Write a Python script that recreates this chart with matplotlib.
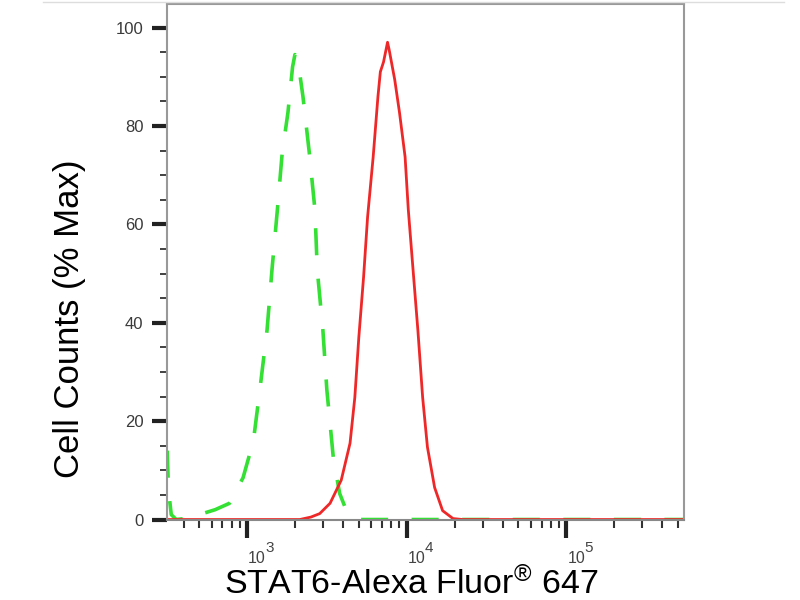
import numpy as np
import matplotlib
matplotlib.use("Agg")
import matplotlib.pyplot as plt
from matplotlib.ticker import LogLocator, NullFormatter, MultipleLocator
from matplotlib.lines import Line2D
from matplotlib.transforms import blended_transform_factory, offset_copy

plt.rcParams['font.family'] = ['Liberation Sans', 'DejaVu Sans']
plt.rcParams['mathtext.fontset'] = 'custom'
plt.rcParams['mathtext.rm'] = 'Liberation Sans'
plt.rcParams['mathtext.it'] = 'Liberation Sans'

# isotype control (green dashed)
ctrl_x = [316, 322, 335, 360, 437, 525, 631, 776, 944, 1096, 1202, 1334, 1432,
          1549, 1660, 1803, 1928, 1995, 2089, 2239, 2455, 2661, 2754, 2985,
          3162, 3467, 3802, 4266, 4898, 20000, 546000]
ctrl_y = [14, 6, 1, 0, 0.3, 1.2, 2, 3.3, 8.5, 16, 26.3, 38.5, 50.7,
          63, 74.5, 82.7, 92, 94.5, 93, 86, 74.5, 63, 50.7, 38.5,
          26.3, 12.7, 5.3, 1.2, 0, 0, 0]

# STAT6 stained sample (red solid)
stat6_x = [316, 2138, 2512, 2851, 3311, 3890, 4416, 4732, 5012, 5370, 5689,
           6166, 6607, 6839, 7161, 7586, 7762, 8414, 9016, 9772, 10233, 10965,
           11749, 12589, 13490, 14962, 16788, 19498, 22387, 546000]
stat6_y = [0, 0, 0.5, 1.2, 3.3, 8, 15.5, 24.8, 37, 49.3, 61.5,
           73.7, 86, 91, 93, 97, 95.5, 89.4, 82.7, 73.7, 63, 50.7,
           38.5, 24.8, 14.7, 6.5, 1.8, 0.2, 0, 0]

decades = [3, 4, 5]

fig = plt.figure(figsize=(8, 6), dpi=100)
ax = fig.add_axes([0.209, 0.1333, 0.646, 0.8594])

ax.plot(ctrl_x, ctrl_y, color='#33e033', lw=2.6, dashes=(7.5, 6.5))
ax.plot(stat6_x, stat6_y, color='#ee2828', lw=2.0)

ax.set_xscale('log')
ax.set_xlim(316, 546000)
ax.set_ylim(-0.1, 104.7)

ax.yaxis.set_major_locator(MultipleLocator(20))
ax.yaxis.set_minor_locator(MultipleLocator(5))
ax.xaxis.set_major_locator(LogLocator(base=10, numticks=10))
ax.xaxis.set_minor_locator(LogLocator(base=10, subs=np.arange(2, 10), numticks=10))
ax.xaxis.set_major_formatter(NullFormatter())
ax.xaxis.set_minor_formatter(NullFormatter())

for s in ['top', 'right', 'left']:
    ax.spines[s].set_color('#999999')
    ax.spines[s].set_linewidth(1.5)
ax.spines['bottom'].set_color('#888888')
ax.spines['bottom'].set_linewidth(1.5)

ax.tick_params(axis='y', which='major', length=11, width=3, color='#222222',
               labelsize=12, labelcolor='#3a3a3a', pad=6)
ax.tick_params(axis='y', which='minor', length=5, width=1.3, color='#333333')
ax.tick_params(axis='x', which='major', length=13, width=3, color='#222222')
ax.tick_params(axis='x', which='minor', length=6, width=1.5, color='#333333')

# decade labels: "10" with a large exponent, like the cytometer software
trans = blended_transform_factory(ax.transData, fig.transFigure)
for d in decades:
    ax.text(10.0 ** d, 1 - 563 / 600, '10', transform=offset_copy(trans, fig, x=1, units='dots'),
            ha='left', va='baseline', fontsize=11.5, color='#444444')
    ax.text(10.0 ** d, 1 - 552 / 600, str(d), transform=offset_copy(trans, fig, x=18, units='dots'),
            ha='left', va='baseline', fontsize=11, color='#444444')

fig.text(0.087, 0.469, 'Cell Counts (% Max)', rotation=90, ha='center', va='center',
         fontsize=25, color='black')
fig.text(0.514, 0.011, 'STAT6-Alexa Fluor$^{®}$ 647', ha='center', va='baseline',
         fontsize=24.5, color='black')

# faint line along the top of the image
fig.add_artist(Line2D([0.054, 0.98], [0.997, 0.997], color='#dddddd', lw=1,
                      transform=fig.transFigure))

fig.savefig('out.png', dpi=100)
